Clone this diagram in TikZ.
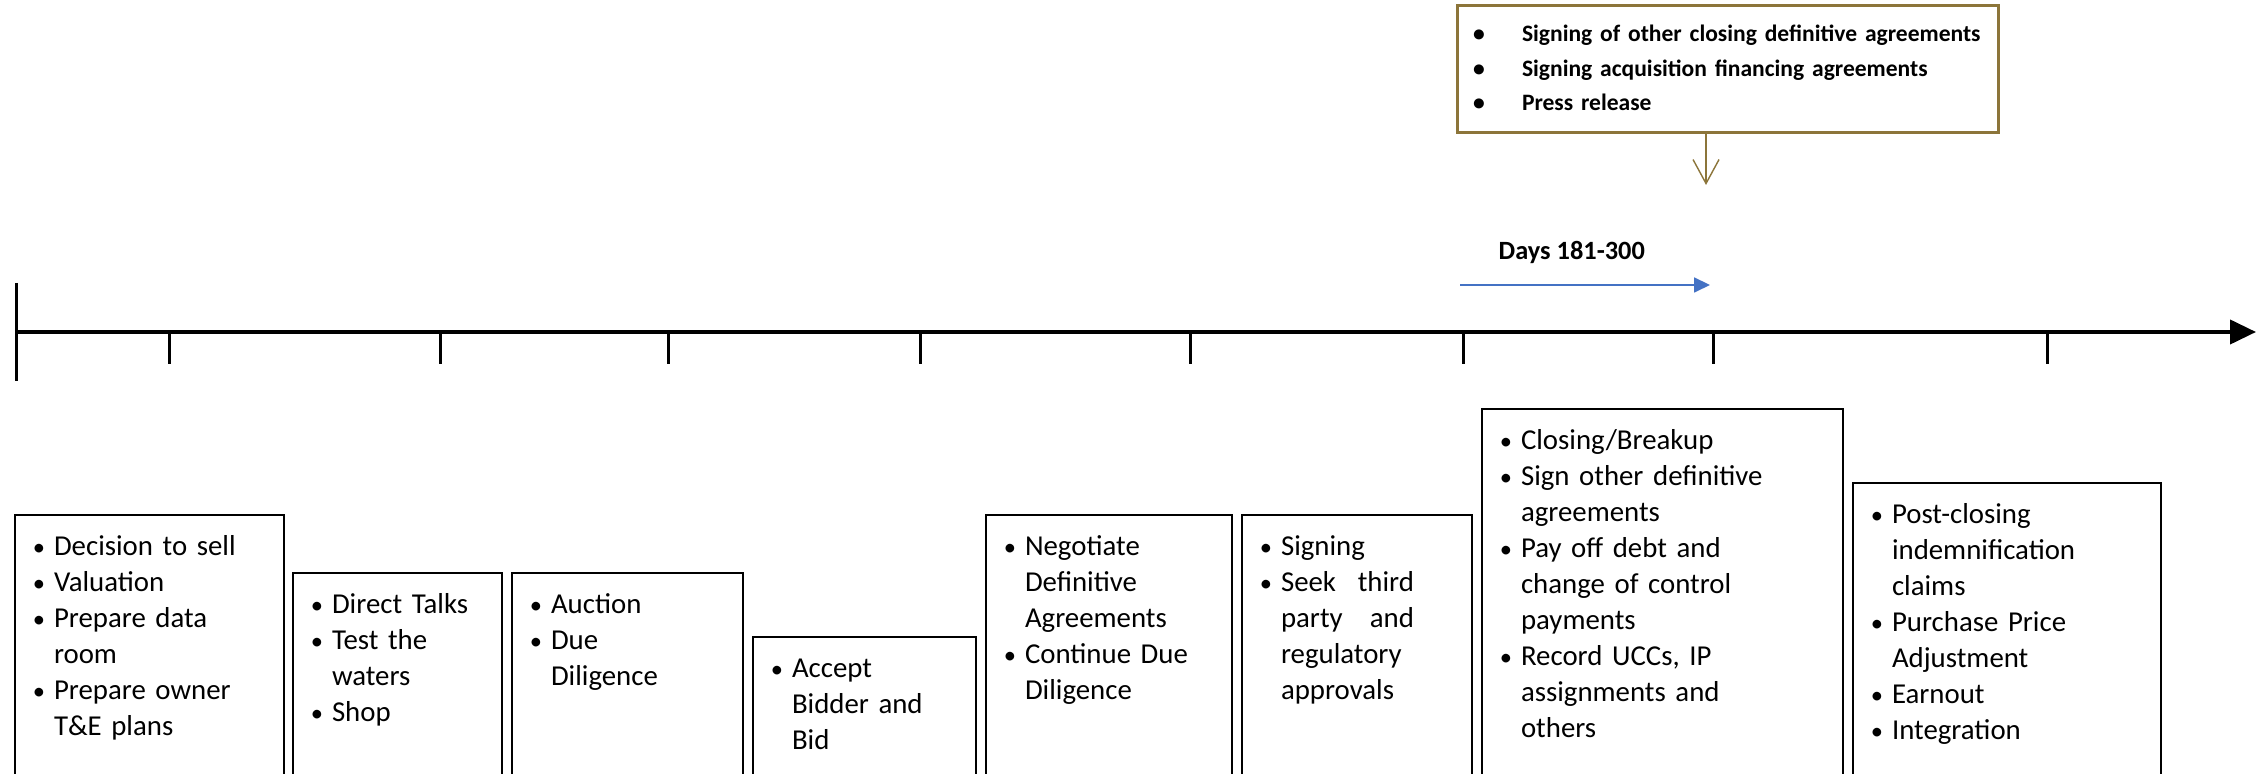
\documentclass[tikz,border=0pt]{standalone}
\usepackage{fontspec}
\setmainfont{Carlito}
\usepackage{graphicx}
\usepackage{xcolor}
\usetikzlibrary{arrows.meta}
\definecolor{notebrown}{RGB}{140,117,58}
\definecolor{daysblue}{RGB}{68,114,196}
\newcommand\bul[1]{{\let\\\newline\hangindent=0.39cm\hangafter=1\makebox[0.39cm][r]{\makebox[0.30cm]{\scalebox{0.85}{\textbullet}}}#1\par}}
\newcommand\notebul[1]{{\let\\\newline\hangindent=0.65cm\hangafter=1\makebox[0.65cm][l]{\makebox[0.44cm]{\textbullet}}#1\par}}

\begin{document}
\begin{tikzpicture}[scale=1,
	stage/.style={draw,line width=0.4pt,anchor=north west,inner sep=0pt,outer sep=0pt,text height=0.405cm,text depth=4cm,font=\fontsize{8.2}{10.25}\selectfont},
	notebox/.style={draw=notebrown,line width=0.03cm,anchor=north west,inner sep=0pt,outer sep=0pt,text width=5.41cm,text height=0.355cm,text depth=0.915cm,font=\bfseries\fontsize{6.7}{9.85}\selectfont}]
				\useasboundingbox (0,0) rectangle (22.67,7.74);
				\clip (0,0) rectangle (22.67,7.74);
				% time line
				\coordinate (origin) at (0.16,4.42);
				\coordinate (tip) at (22.56,4.42);
				\begin{scope}[line width=0.03cm]
				\draw (0.16,4.91)--(0.16,3.93);
				\draw (1.69,4.42)--(1.69,4.10);
				\draw (4.40,4.42)--(4.40,4.10);
				\draw (6.68,4.42)--(6.68,4.10);
				\draw (9.20,4.42)--(9.20,4.10);
				\draw (11.90,4.42)--(11.90,4.10);
				\draw (14.63,4.42)--(14.63,4.10);
				\draw (17.13,4.42)--(17.13,4.10);
				\draw (20.47,4.42)--(20.47,4.10);
				\end{scope}
				\draw[line width=0.04cm,-{Triangle[length=0.26cm,width=0.24cm]}] (origin)--(tip);
				% stages
				\node[stage,text width=2.69cm] (sell) at (0.15,2.59){\bul{Decision to sell}\bul{Valuation}\bul{Prepare data\\room}\bul{Prepare owner\\T\&E plans}};
				\node[stage,text width=2.09cm] (talks) at (2.93,2.01){\bul{Direct Talks}\bul{Test the\\waters}\bul{Shop}};
				\node[stage,text width=2.31cm] (auction) at (5.12,2.01){\bul{Auction}\bul{Due\\Diligence}};
				\node[stage,text width=2.23cm] (bid) at (7.53,1.37){\bul{Accept\\Bidder and\\Bid}};
				\node[stage,text width=2.46cm] (negotiate) at (9.86,2.59){\bul{Negotiate\\Definitive\\Agreements}\bul{Continue Due\\Diligence}};
				\node[stage,text width=2.30cm] (signing) at (12.42,2.59){\bul{Signing}\bul{\makebox[1.33cm][l]{Seek\hfill third}\\\makebox[1.33cm][l]{party\hfill and}\\regulatory\\approvals}};
				\node[stage,text width=3.61cm] (closing) at (14.82,3.65){\bul{Closing/Breakup}\bul{Sign other definitive\\agreements}\bul{Pay off debt and\\change of control\\payments}\bul{Record UCCs, IP\\assignments and\\others}};
				\node[stage,text width=3.08cm] (post) at (18.53,2.91){\bul{Post-closing\\indemnification\\claims}\bul{Purchase Price\\Adjustment}\bul{Earnout}\bul{Integration}};
				% closing note
				\node[notebox] (closingnote) at (14.57,7.68){\notebul{Signing of other closing definitive agreements}\notebul{Signing acquisition financing agreements}\notebul{Press release}};
				\coordinate (pin) at (17.06,5.89);
				\draw[notebrown,line width=0.4pt,-{Straight Barb[length=0.24cm,width=0.26cm]}] (closingnote.south -| pin)--(pin);
				% days
				\node[anchor=base west,inner sep=0pt,font=\bfseries\fontsize{7.5}{9}\selectfont] (days) at (14.98,5.14){Days 181-300};
				\coordinate (dstart) at (14.60,4.89);
				\coordinate (dend) at (17.10,4.89);
				\draw[daysblue,line width=0.5pt,-{Triangle[length=0.16cm,width=0.15cm]}] (dstart)--(dend);
			\end{tikzpicture}
\end{document}
